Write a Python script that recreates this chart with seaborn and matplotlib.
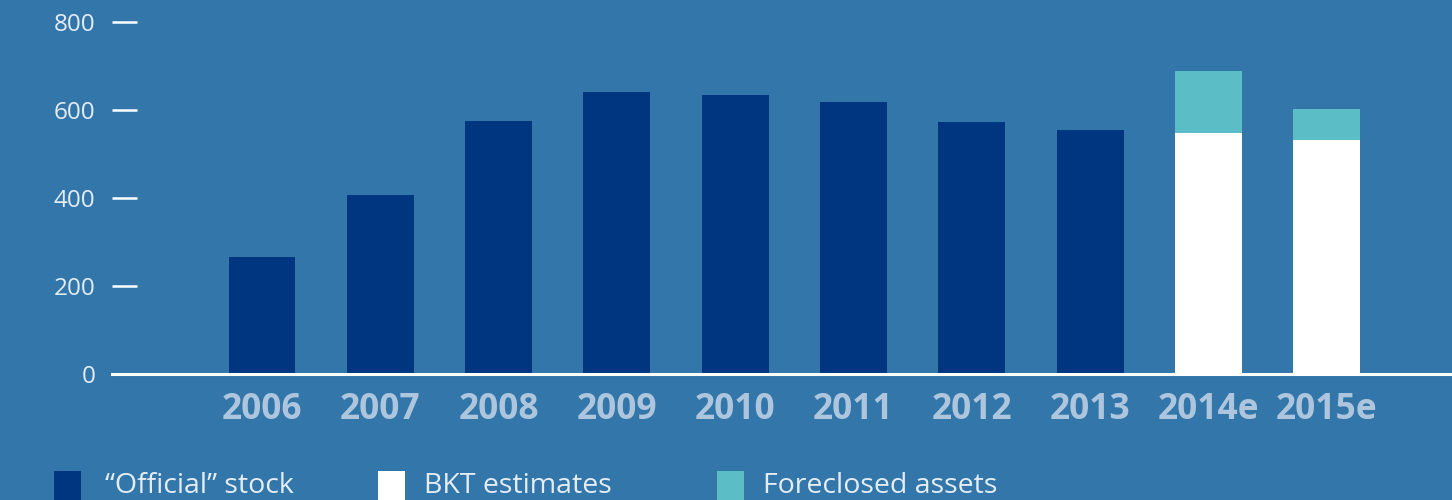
import numpy as np
import pandas as pd
import matplotlib
matplotlib.use("Agg")
import matplotlib.pyplot as plt
from matplotlib.patches import Rectangle
import seaborn as sns

# Data
years = ["2006", "2007", "2008", "2009", "2010", "2011", "2012", "2013", "2014e", "2015e"]
official_stock = [266, 407, 575, 641, 634, 618, 573, 555, np.nan, np.nan]
bkt_estimates = [np.nan] * 8 + [548, 532]
foreclosed_assets = [np.nan] * 8 + [141, 70]
y_ticks = [0, 200, 400, 600, 800]
legend_labels = ["\u201cOfficial\u201d stock", "BKT estimates", "Foreclosed assets"]

# Style
BG = "#3276AA"
NAVY = "#003580"
TEAL = "#5BBEC7"
WHITE = "#FFFFFF"
TICK_TXT = "#E4ECF4"
CAT_TXT = "#AEC6DD"

sns.set_theme(style="white")
plt.rcParams["font.family"] = ["Open Sans", "DejaVu Sans"]

fig = plt.figure(figsize=(14.52, 5.0), dpi=100, facecolor=BG)
ax = fig.add_axes([112 / 1452, 126 / 500, 1 - 112 / 1452, 352 / 500])
ax.set_facecolor(BG)

df = pd.DataFrame({
    "year": years,
    "official": official_stock,
    "bkt": bkt_estimates,
    "total_est": np.array(bkt_estimates) + np.array(foreclosed_assets),
})

bw = 0.566
sns.barplot(data=df, x="year", y="official", order=years, color=NAVY,
            width=bw, saturation=1, linewidth=0, ax=ax)
sns.barplot(data=df, x="year", y="total_est", order=years, color=TEAL,
            width=bw, saturation=1, linewidth=0, ax=ax)
sns.barplot(data=df, x="year", y="bkt", order=years, color=WHITE,
            width=bw, saturation=1, linewidth=0, ax=ax)

ax.set_xlim(-1.268, 10.06)
ax.set_ylim(0, 800)
ax.set_yticks(y_ticks)
ax.set_xlabel("")
ax.set_ylabel("")

for side in ["top", "right", "left"]:
    ax.spines[side].set_visible(False)
ax.spines["bottom"].set_color(WHITE)
ax.spines["bottom"].set_linewidth(2.2)
ax.spines["bottom"].set_zorder(5)

ax.tick_params(axis="y", direction="in", length=18, width=1.8, color=WHITE,
               pad=12, labelsize=17.5, labelcolor=TICK_TXT, left=True)
ax.tick_params(axis="x", length=0, pad=13, labelsize=25.5, labelcolor=CAT_TXT)
for lab in ax.get_xticklabels():
    lab.set_fontweight("bold")

# Legend row along the bottom
legend_colors = [NAVY, WHITE, TEAL]
box_x = [54, 378, 717]
text_x = [105, 424, 763]
for lab, col, bx, tx in zip(legend_labels, legend_colors, box_x, text_x):
    fig.add_artist(Rectangle((bx / 1452, -4 / 500), 27 / 1452, 33 / 500,
                             transform=fig.transFigure, facecolor=col,
                             edgecolor="none"))
    fig.text(tx / 1452, 7 / 500, lab, color=TICK_TXT, fontsize=20.5,
             ha="left", va="baseline")

fig.savefig("out.png", dpi=100, facecolor=BG)
